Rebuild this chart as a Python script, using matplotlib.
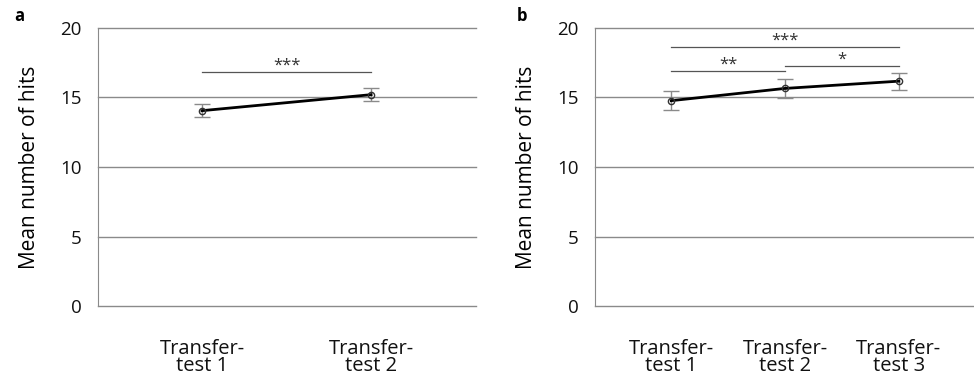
import numpy as np
import matplotlib.pyplot as plt

plt.rcParams['font.family'] = ['Open Sans', 'DejaVu Sans']

# panel a
labels_a = ['Transfer-\ntest 1', 'Transfer-\ntest 2']
means_a = [14.05, 15.2]
err_a = [0.48, 0.47]
sig_a = [(1, 2, 16.85, '***')]

# panel b
labels_b = ['Transfer-\ntest 1', 'Transfer-\ntest 2', 'Transfer-\ntest 3']
means_b = [14.77, 15.65, 16.17]
err_b = [0.7, 0.67, 0.6]
sig_b = [(1, 3, 18.63, '***'), (1, 2, 16.93, '**'), (2, 3, 17.27, '*')]

fig = plt.figure(figsize=(9.74, 3.77), dpi=100)
ax1 = fig.add_axes([0.1006, 0.188, 0.388, 0.738])
ax2 = fig.add_axes([0.6109, 0.188, 0.389, 0.738])

grey = '#8a8a8a'


def draw(ax, labels, means, err, sigs, xlim):
    x = np.arange(1, len(means) + 1)
    ax.errorbar(x, means, yerr=err, fmt='none', ecolor=grey, elinewidth=1,
                capsize=6, capthick=1, zorder=3)
    ax.plot(x, means, color='black', lw=2, zorder=4)
    ax.plot(x, means, 'o', ms=4.5, mfc='none', mec='#333333', mew=1, zorder=5)
    for x1, x2, y, s in sigs:
        ax.plot([x1, x2], [y, y], color='#555555', lw=0.9)
        ax.text((x1 + x2) / 2, y - 0.15, s, ha='center', va='bottom',
                fontsize=12, color='#333333')
    ax.set_xlim(*xlim)
    ax.set_ylim(0, 20)
    ax.set_yticks([0, 5, 10, 15, 20])
    ax.set_xticks(x)
    ax.set_xticklabels(labels, linespacing=0.8)
    ax.yaxis.grid(True, color=grey, lw=1)
    for gl in ax.get_ygridlines():
        gl.set_clip_on(False)
    ax.set_axisbelow(True)
    for sp in ['top', 'right', 'bottom']:
        ax.spines[sp].set_visible(False)
    ax.spines['left'].set_color(grey)
    ax.tick_params(length=0, labelsize=13.5, colors='#111111')
    ax.tick_params(axis='x', pad=24, labelsize=14.5)
    ax.tick_params(axis='y', pad=12)
    ax.set_ylabel('Mean number of hits', fontsize=15, labelpad=14)


draw(ax1, labels_a, means_a, err_a, sig_a, (0.385, 2.62))
draw(ax2, labels_b, means_b, err_b, sig_b, (0.33, 3.66))

fig.text(0.015, 0.945, 'a', fontsize=12, fontweight='bold')
fig.text(0.531, 0.945, 'b', fontsize=12, fontweight='bold')

fig.savefig('out.png', dpi=100)
